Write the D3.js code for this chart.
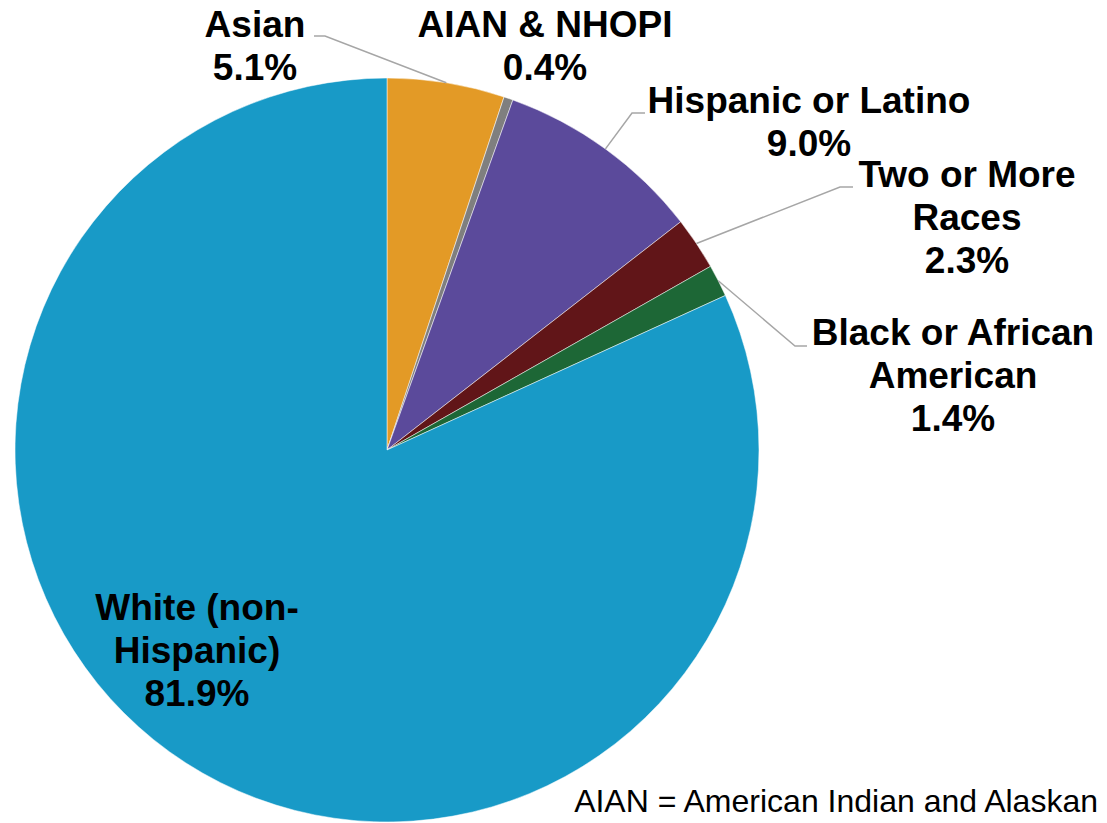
<!DOCTYPE html>
<html><head><meta charset="utf-8">
<script src="https://cdn.jsdelivr.net/npm/d3@7"></script>
<style>
html,body{margin:0;padding:0;background:#fff;}
svg{display:block;}
text{font-family:"Liberation Sans",Arial,sans-serif;}
</style></head>
<body>
<svg id="chart" width="1107" height="823"></svg>
<script>
// Data
const categories = ["Asian", "AIAN & NHOPI", "Hispanic or Latino", "Two or More Races", "Black or African American", "White (non-Hispanic)"];
const values = [5.1, 0.4, 9.0, 2.3, 1.4, 81.9];
const labelLines = [["Asian", "5.1%"], ["AIAN & NHOPI", "0.4%"], ["Hispanic or Latino", "9.0%"], ["Two or More", "Races", "2.3%"], ["Black or African", "American", "1.4%"], ["White (non-", "Hispanic)", "81.9%"]];
const colors = ["#E39A26", "#7F7F7F", "#5B4A9B", "#611518", "#1D6736", "#189AC7"];
const footnote = "AIAN = American Indian and Alaskan";

// Layout
const cx = 387, cy = 450, R = 372;
const lineH = 43;
const labelLayout = [
  {x: 255, y: 37, elbow: [325, 36], hook: 314},
  {x: 545, y: 37, elbow: null},
  {x: 809, y: 113, elbow: [632, 113], hook: 645},
  {x: 967, y: 187, elbow: [840, 187], hook: 853},
  {x: 953, y: 345, elbow: [795, 346], hook: 807},
  {x: 197, y: 620, elbow: null}
];

const svg = d3.select("#chart");
const g = svg.append("g").attr("transform", `translate(${cx},${cy})`);
const pie = d3.pie().sort(null).value(d => d)(values);
const arc = d3.arc().innerRadius(0).outerRadius(R);

g.selectAll("path.slice").data(pie).enter().append("path")
  .attr("class", "slice")
  .attr("d", arc)
  .attr("fill", (d, i) => colors[i])
  .attr("stroke", "#ffffff").attr("stroke-width", 0.5);

// leader lines
pie.forEach((d, i) => {
  const L = labelLayout[i];
  if (!L.elbow) return;
  const a = (d.startAngle + d.endAngle) / 2;
  const px = cx + R * Math.sin(a), py = cy - R * Math.cos(a);
  svg.append("polyline")
    .attr("points", `${px},${py} ${L.elbow[0]},${L.elbow[1]} ${L.hook},${L.elbow[1]}`)
    .attr("fill", "none").attr("stroke", "#A6A6A6").attr("stroke-width", 1.5);
});

// labels
labelLines.forEach((lines, i) => {
  const L = labelLayout[i];
  const t = svg.append("text").attr("text-anchor", "middle")
    .attr("font-size", 37).attr("font-weight", "bold").attr("fill", "#000");
  lines.forEach((s, j) => {
    t.append("tspan").attr("x", L.x).attr("y", L.y + j * lineH).text(s);
  });
});

svg.append("text").attr("x", 1098).attr("y", 812).attr("text-anchor", "end")
  .attr("font-size", 32).attr("fill", "#000").text(footnote);
</script>
</body></html>
